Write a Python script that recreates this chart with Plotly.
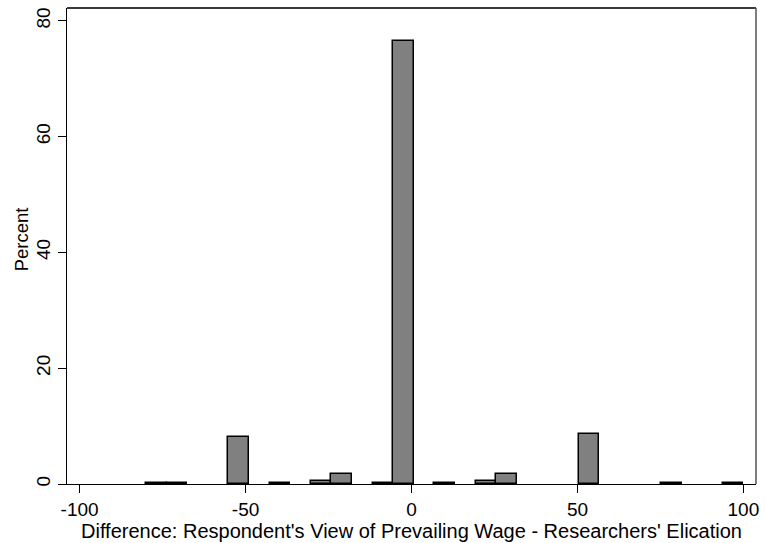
import plotly.graph_objects as go

# Histogram bins: 29 equal-width bins from -80 to 100
bin_start = -80
bin_end = 100
n_bins = 29
# Percent per bin (None = empty bin)
percent = [0.12, 0.12, None, None, 8.2, None, 0.12, None, 0.57, 1.75,
           None, 0.12, 76.5, None, 0.12, None, 0.57, 1.65, None, None,
           None, 8.6, None, None, None, 0.12, None, None, 0.12]

x_ticks = [-100, -50, 0, 50, 100]
x_tick_labels = ["-100", "-50", "0", "50", "100"]
y_ticks = [0, 20, 40, 60, 80]
y_tick_labels = ["0", "20", "40", "60", "80"]
x_title = "Difference: Respondent's View of Prevailing Wage - Researchers' Elication"
y_title = "Percent"

width = (bin_end - bin_start) / n_bins
centers = [bin_start + width * (k + 0.5) for k in range(n_bins)]

fig = go.Figure()
fig.add_trace(go.Bar(
    x=centers, y=percent, width=width,
    marker=dict(color="#808080", line=dict(color="#000000", width=1.5)),
))

font = "Liberation Sans, Arial, Helvetica, sans-serif"
fig.update_layout(
    width=766, height=543,
    margin=dict(l=67, r=7, t=7, b=59),
    paper_bgcolor="white", plot_bgcolor="white",
    showlegend=False, bargap=0,
    font=dict(family=font, size=19, color="black"),
    xaxis=dict(
        range=[-103.8, 103.8], tickvals=x_ticks, ticktext=x_tick_labels,
        ticks="outside", ticklen=8,
        tickcolor="black", tickwidth=1, showgrid=False, zeroline=False,
        showline=True, linecolor="black", linewidth=1.2,
        title=dict(text=x_title, standoff=2, font=dict(size=20)),
        tickfont=dict(size=19), ticklabeloverflow="allow",
    ),
    yaxis=dict(
        range=[0, 82.2], tickvals=y_ticks, ticktext=y_tick_labels,
        ticks="outside", ticklen=8,
        tickcolor="black", tickwidth=1, showgrid=False, zeroline=False,
        showline=True, linecolor="black", linewidth=1.2, tickangle=-90,
        tickfont=dict(size=19), ticklabeloverflow="allow",
    ),
    annotations=[
        dict(text=y_title, xref="paper", yref="paper", x=0, y=0.514,
             xshift=-46, textangle=-90, showarrow=False,
             xanchor="center", yanchor="middle", font=dict(size=18.5)),
    ],
    shapes=[
        dict(type="line", xref="paper", yref="paper", x0=0, x1=1, y0=1, y1=1,
             line=dict(color="#3a3a3a", width=2)),
        dict(type="line", xref="paper", yref="paper", x0=1, x1=1, y0=0, y1=1,
             line=dict(color="#555555", width=1.5)),
    ],
)

# remove the default page margin so the 766x543 figure fills the window exactly
fig.write_html(
    "out.html",
    config={"displayModeBar": False},
    post_script="document.body.style.margin='0';document.body.style.overflow='hidden';",
)
